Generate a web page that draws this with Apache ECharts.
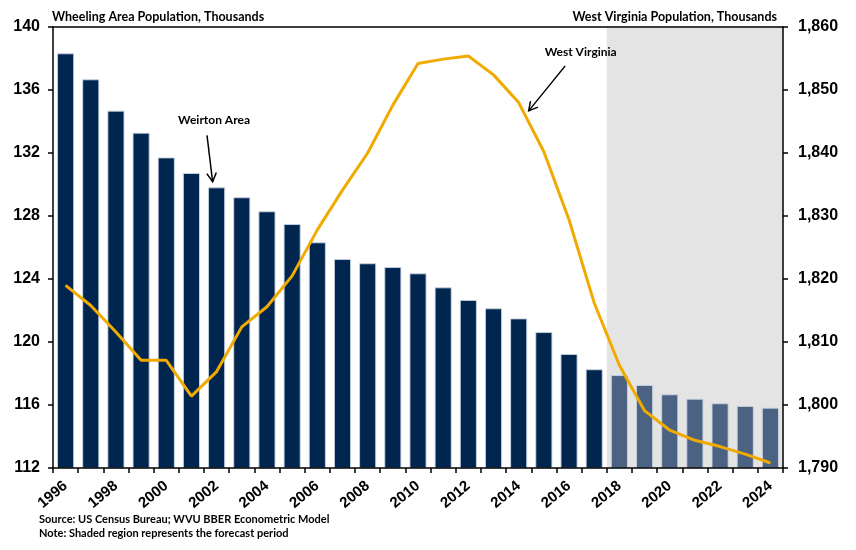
<!DOCTYPE html>
<html><head><meta charset="utf-8">
<script src="https://cdn.jsdelivr.net/npm/echarts@6/dist/echarts.min.js"></script>
<style>html,body{margin:0;padding:0;background:#fff}#c{width:856px;height:550px}</style>
</head><body><div id="c"></div>
<script>
const years = ['1996','1997','1998','1999','2000','2001','2002','2003','2004','2005','2006','2007','2008','2009','2010','2011','2012','2013','2014','2015','2016','2017','2018','2019','2020','2021','2022','2023','2024'];
const weirtonArea = [138.33,136.68,134.69,133.29,131.72,130.73,129.82,129.19,128.30,127.49,126.33,125.27,125.0,124.76,124.36,123.47,122.67,122.14,121.5,120.63,119.24,118.27,117.9,117.27,116.68,116.4,116.11,115.94,115.83];
const westVirginia = [1819.0,1815.8,1811.6,1807.1,1807.1,1801.4,1805.3,1812.4,1815.6,1820.5,1827.8,1834.1,1840.0,1847.6,1854.2,1854.9,1855.4,1852.4,1848.0,1840.2,1829.4,1816.2,1806.3,1799.1,1796.0,1794.4,1793.4,1792.2,1790.8];
const forecastStart = '2018';
const leftTicks = {min:112, max:140, interval:4};
const rightTicks = {min:1790, max:1860, interval:10};

const NAVY = '#00264f', SLATE = '#4c6282', GOLD = '#f0aa00', SHADE = '#e4e4e4';
const labelFont = {fontFamily:'Liberation Sans, Arial', fontWeight:'bold', fontSize:16, color:'#000'};
const noteFont = 'Lato, Calibri, sans-serif';
const fStart = years.indexOf(forecastStart);

const chart = echarts.init(document.getElementById('c'), null, {renderer:'canvas'});
const axisLine = {show:true, onZero:false, lineStyle:{color:'#000', width:1.5}};
chart.setOption({
  animation:false,
  backgroundColor:'#fff',
  grid:{left:53, right:73, top:27, bottom:82, show:false},
  xAxis:[
    {type:'category', data:years, boundaryGap:true, z:5,
     axisLine:axisLine, axisTick:{show:true, interval:0, length:5, lineStyle:{color:'#000', width:1.5}},
     axisLabel:Object.assign({}, labelFont, {interval:1, rotate:40, margin:16, fontSize:15})},
    {type:'value', min:-0.5, max:years.length-0.5, show:false, axisLine:{onZero:false}},
    {type:'category', data:years, position:'top', z:5, axisLine:axisLine, axisTick:{show:false}, axisLabel:{show:false}}
  ],
  yAxis:[
    {type:'value', min:leftTicks.min, max:leftTicks.max, interval:leftTicks.interval, z:5,
     axisLine:axisLine, axisTick:{show:true, length:5, lineStyle:{color:'#000', width:1.5}}, splitLine:{show:false},
     axisLabel:Object.assign({margin:13}, labelFont)},
    {type:'value', position:'right', min:rightTicks.min, max:rightTicks.max, interval:rightTicks.interval, z:5,
     axisLine:axisLine, axisTick:{show:true, length:5, lineStyle:{color:'#000', width:1.5}}, splitLine:{show:false},
     axisLabel:Object.assign({margin:15, formatter:v=>v.toLocaleString('en-US')}, labelFont)},
    {type:'value', min:0, max:1, show:false, axisLine:{onZero:false}}
  ],
  series:[
    {name:'Forecast', type:'line', xAxisIndex:1, yAxisIndex:2, z:1, silent:true, data:[],
     markArea:{silent:true, itemStyle:{color:SHADE}, label:{show:false},
       data:[[{xAxis:fStart-0.5, yAxis:0}, {xAxis:years.length-0.5, yAxis:1}]]}},
    {name:'Weirton Area', type:'bar', xAxisIndex:0, yAxisIndex:0, barWidth:'68%', z:2,
     itemStyle:{borderColor:'rgba(200,212,226,0.9)', borderWidth:1},
     data:weirtonArea.map((v,i)=>({value:v, itemStyle:{color: i >= fStart ? SLATE : NAVY}}))},
    {name:'West Virginia', type:'line', xAxisIndex:0, yAxisIndex:1, z:4, symbol:'none',
     lineStyle:{color:GOLD, width:3}, data:westVirginia}
  ]
});

function arrow(tail, head){
  const dx = head[0]-tail[0], dy = head[1]-tail[1];
  const a = Math.atan2(dy, dx), L = 10, w = 0.5;
  const p1 = [head[0]-L*Math.cos(a-w), head[1]-L*Math.sin(a-w)];
  const p2 = [head[0]-L*Math.cos(a+w), head[1]-L*Math.sin(a+w)];
  const st = {stroke:'#000', lineWidth:1.5, fill:null};
  return [
    {type:'line', shape:{x1:tail[0], y1:tail[1], x2:head[0], y2:head[1]}, style:st, z:10},
    {type:'polyline', shape:{points:[p1, head, p2]}, style:st, z:10}
  ];
}
const pW = chart.convertToPixel({xAxisIndex:0, yAxisIndex:0}, ['2002', weirtonArea[6]]);
const pV = chart.convertToPixel({xAxisIndex:0, yAxisIndex:1}, ['2014', westVirginia[18]]);
const annFont = 'bold 12px ' + noteFont;
const titleFont = 'bold 12.5px ' + noteFont;
const graphics = [
  {type:'text', left:52, top:10, style:{text:'Wheeling Area Population, Thousands', font:titleFont, fill:'#000'}},
  {type:'text', right:79, top:10, style:{text:'West Virginia Population, Thousands', font:titleFont, fill:'#000'}},
  {type:'text', left:39, top:514, style:{text:'Source: US Census Bureau; WVU BBER Econometric Model', font:'bold 11px '+noteFont, fill:'#000'}},
  {type:'text', left:39, top:528, style:{text:'Note: Shaded region represents the forecast period', font:'bold 11px '+noteFont, fill:'#000'}},
  {type:'text', x:pW[0]-2.6, y:pW[1]-67, style:{text:'Weirton Area', font:annFont, fill:'#000', align:'center', verticalAlign:'middle'}, z:10},
  {type:'text', x:pV[0]+62, y:pV[1]-50, style:{text:'West Virginia', font:annFont, fill:'#000', align:'center', verticalAlign:'middle'}, z:10}
].concat(arrow([pW[0]-9.6, pW[1]-52], [pW[0]-4, pW[1]-5.6]))
 .concat(arrow([pV[0]+46.5, pV[1]-36.7], [pV[0]+10, pV[1]+8.3]));
chart.setOption({graphic:graphics});
</script></body></html>
